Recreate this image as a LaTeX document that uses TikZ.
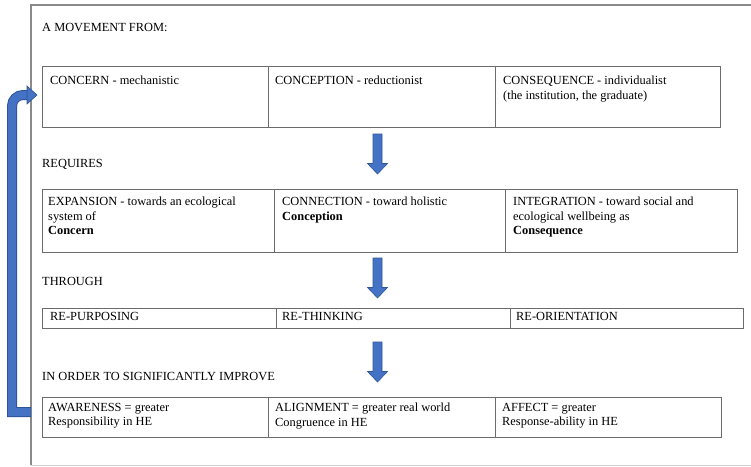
\documentclass[tikz,border=0pt]{standalone}
\usepackage{fontspec}
\setmainfont[Ligatures=TeX]{Liberation Serif}
\definecolor{cellline}{HTML}{6B6B6B}
\definecolor{frameline}{HTML}{8A8A8A}
\definecolor{arrowfill}{HTML}{4472C4}
\definecolor{arrowedge}{HTML}{2F5597}
% block arrow pointing down: centre x, top y, tip y
\newcommand\blockdown[3]{%
  \filldraw[fill=arrowfill, draw=arrowedge, line width=0.6pt, line join=miter]
    (#1-4.5,#2) -- (#1+4.5,#2) -- (#1+4.5,#3-10.5) -- (#1+10,#3-10.5)
    -- (#1,#3) -- (#1-10,#3-10.5) -- (#1-4.5,#3-10.5) -- cycle;}
\begin{document}
\rmfamily
\begin{tikzpicture}[x=1pt,y=-1pt,
  cell/.style={draw=cellline, line width=1.4pt, inner sep=0pt, anchor=north west},
  celltext/.style={anchor=north west, inner sep=0pt, align=left,
                   font=\rmfamily\fontsize{12.4}{14.5}\selectfont},
  heading/.style={anchor=base west, inner sep=0pt,
                  font=\rmfamily\fontsize{12.4}{14.5}\selectfont}]
\fill[white] (0,0) rectangle (751,466);
\clip (0,0) rectangle (751,466);

% outer frame
\draw[frameline, line width=1.2pt] (31,465) -- (31,5) -- (760,5);
\draw[frameline!40, line width=0.8pt] (31,465) -- (760,465);

% headings
\node[heading] (h1) at (42,31) {A MOVEMENT FROM:};
\node[heading] (h2) at (42,167) {REQUIRES};
\node[heading] (h3) at (42,285) {THROUGH};
\node[heading] (h4) at (42,380) {IN ORDER TO SIGNIFICANTLY IMPROVE};

% row 1
\node[cell, minimum width=226, minimum height=61] (c11) at (42,66) {};
\node[cell, minimum width=227, minimum height=61] (c12) at (268,66) {};
\node[cell, minimum width=225, minimum height=61] (c13) at (495,66) {};
\node[celltext] (t11) at (50,76) {CONCERN - mechanistic};
\node[celltext] (t12) at (275,76) {CONCEPTION - reductionist};
\node[celltext] (t13) at (503,76) {CONSEQUENCE - individualist\\(the institution, the graduate)};

% row 2
\node[cell, minimum width=232, minimum height=63] (c21) at (42,189) {};
\node[cell, minimum width=231, minimum height=63] (c22) at (274,189) {};
\node[cell, minimum width=232, minimum height=63] (c23) at (505,189) {};
\node[celltext] (t21) at (48,197) {EXPANSION - towards an ecological\\system of\\\textbf{Concern}};
\node[celltext] (t22) at (282,197) {CONNECTION - toward holistic\\\textbf{Conception}};
\node[celltext] (t23) at (513,197) {INTEGRATION - toward social and\\ecological wellbeing as\\\textbf{Consequence}};

% row 3
\node[cell, minimum width=234, minimum height=20] (c31) at (42,308) {};
\node[cell, minimum width=234, minimum height=20] (c32) at (276,308) {};
\node[cell, minimum width=233, minimum height=20] (c33) at (510,308) {};
\node[celltext] (t31) at (50,312) {RE-PURPOSING};
\node[celltext] (t32) at (282,312) {RE-THINKING};
\node[celltext] (t33) at (516,312) {RE-ORIENTATION};

% row 4
\node[cell, minimum width=226, minimum height=40] (c41) at (42,397) {};
\node[cell, minimum width=227, minimum height=40] (c42) at (268,397) {};
\node[cell, minimum width=226, minimum height=40] (c43) at (495,397) {};
\node[celltext] (t41) at (48,403) {AWARENESS = greater\\Responsibility in HE};
\node[celltext] (t42) at (275,403) {ALIGNMENT = greater real world\\Congruence in HE};
\node[celltext] (t43) at (502,403) {AFFECT = greater\\Response-ability in HE};

% downward block arrows between the rows
\blockdown{377.5}{134}{174}
\blockdown{377.5}{258}{298}
\blockdown{377.5}{342}{382}

% feedback arrow from the last row back to the first
\coordinate (fbstart) at (31,412);
\coordinate (fbcorner) at (12,412);
\coordinate (fbend) at (28,95);
\draw[arrowedge, line width=10pt]
  (fbstart) -- (fbcorner) [rounded corners=11pt] -- (12,95) -- (fbend);
\draw[arrowfill, line width=8pt]
  (30.5,412) -- (fbcorner) [rounded corners=11pt] -- (12,95) -- (fbend);
\filldraw[fill=arrowfill, draw=arrowedge, line width=0.6pt]
  (27,86) -- (37,95) -- (27,104) -- cycle;
\end{tikzpicture}
\end{document}
